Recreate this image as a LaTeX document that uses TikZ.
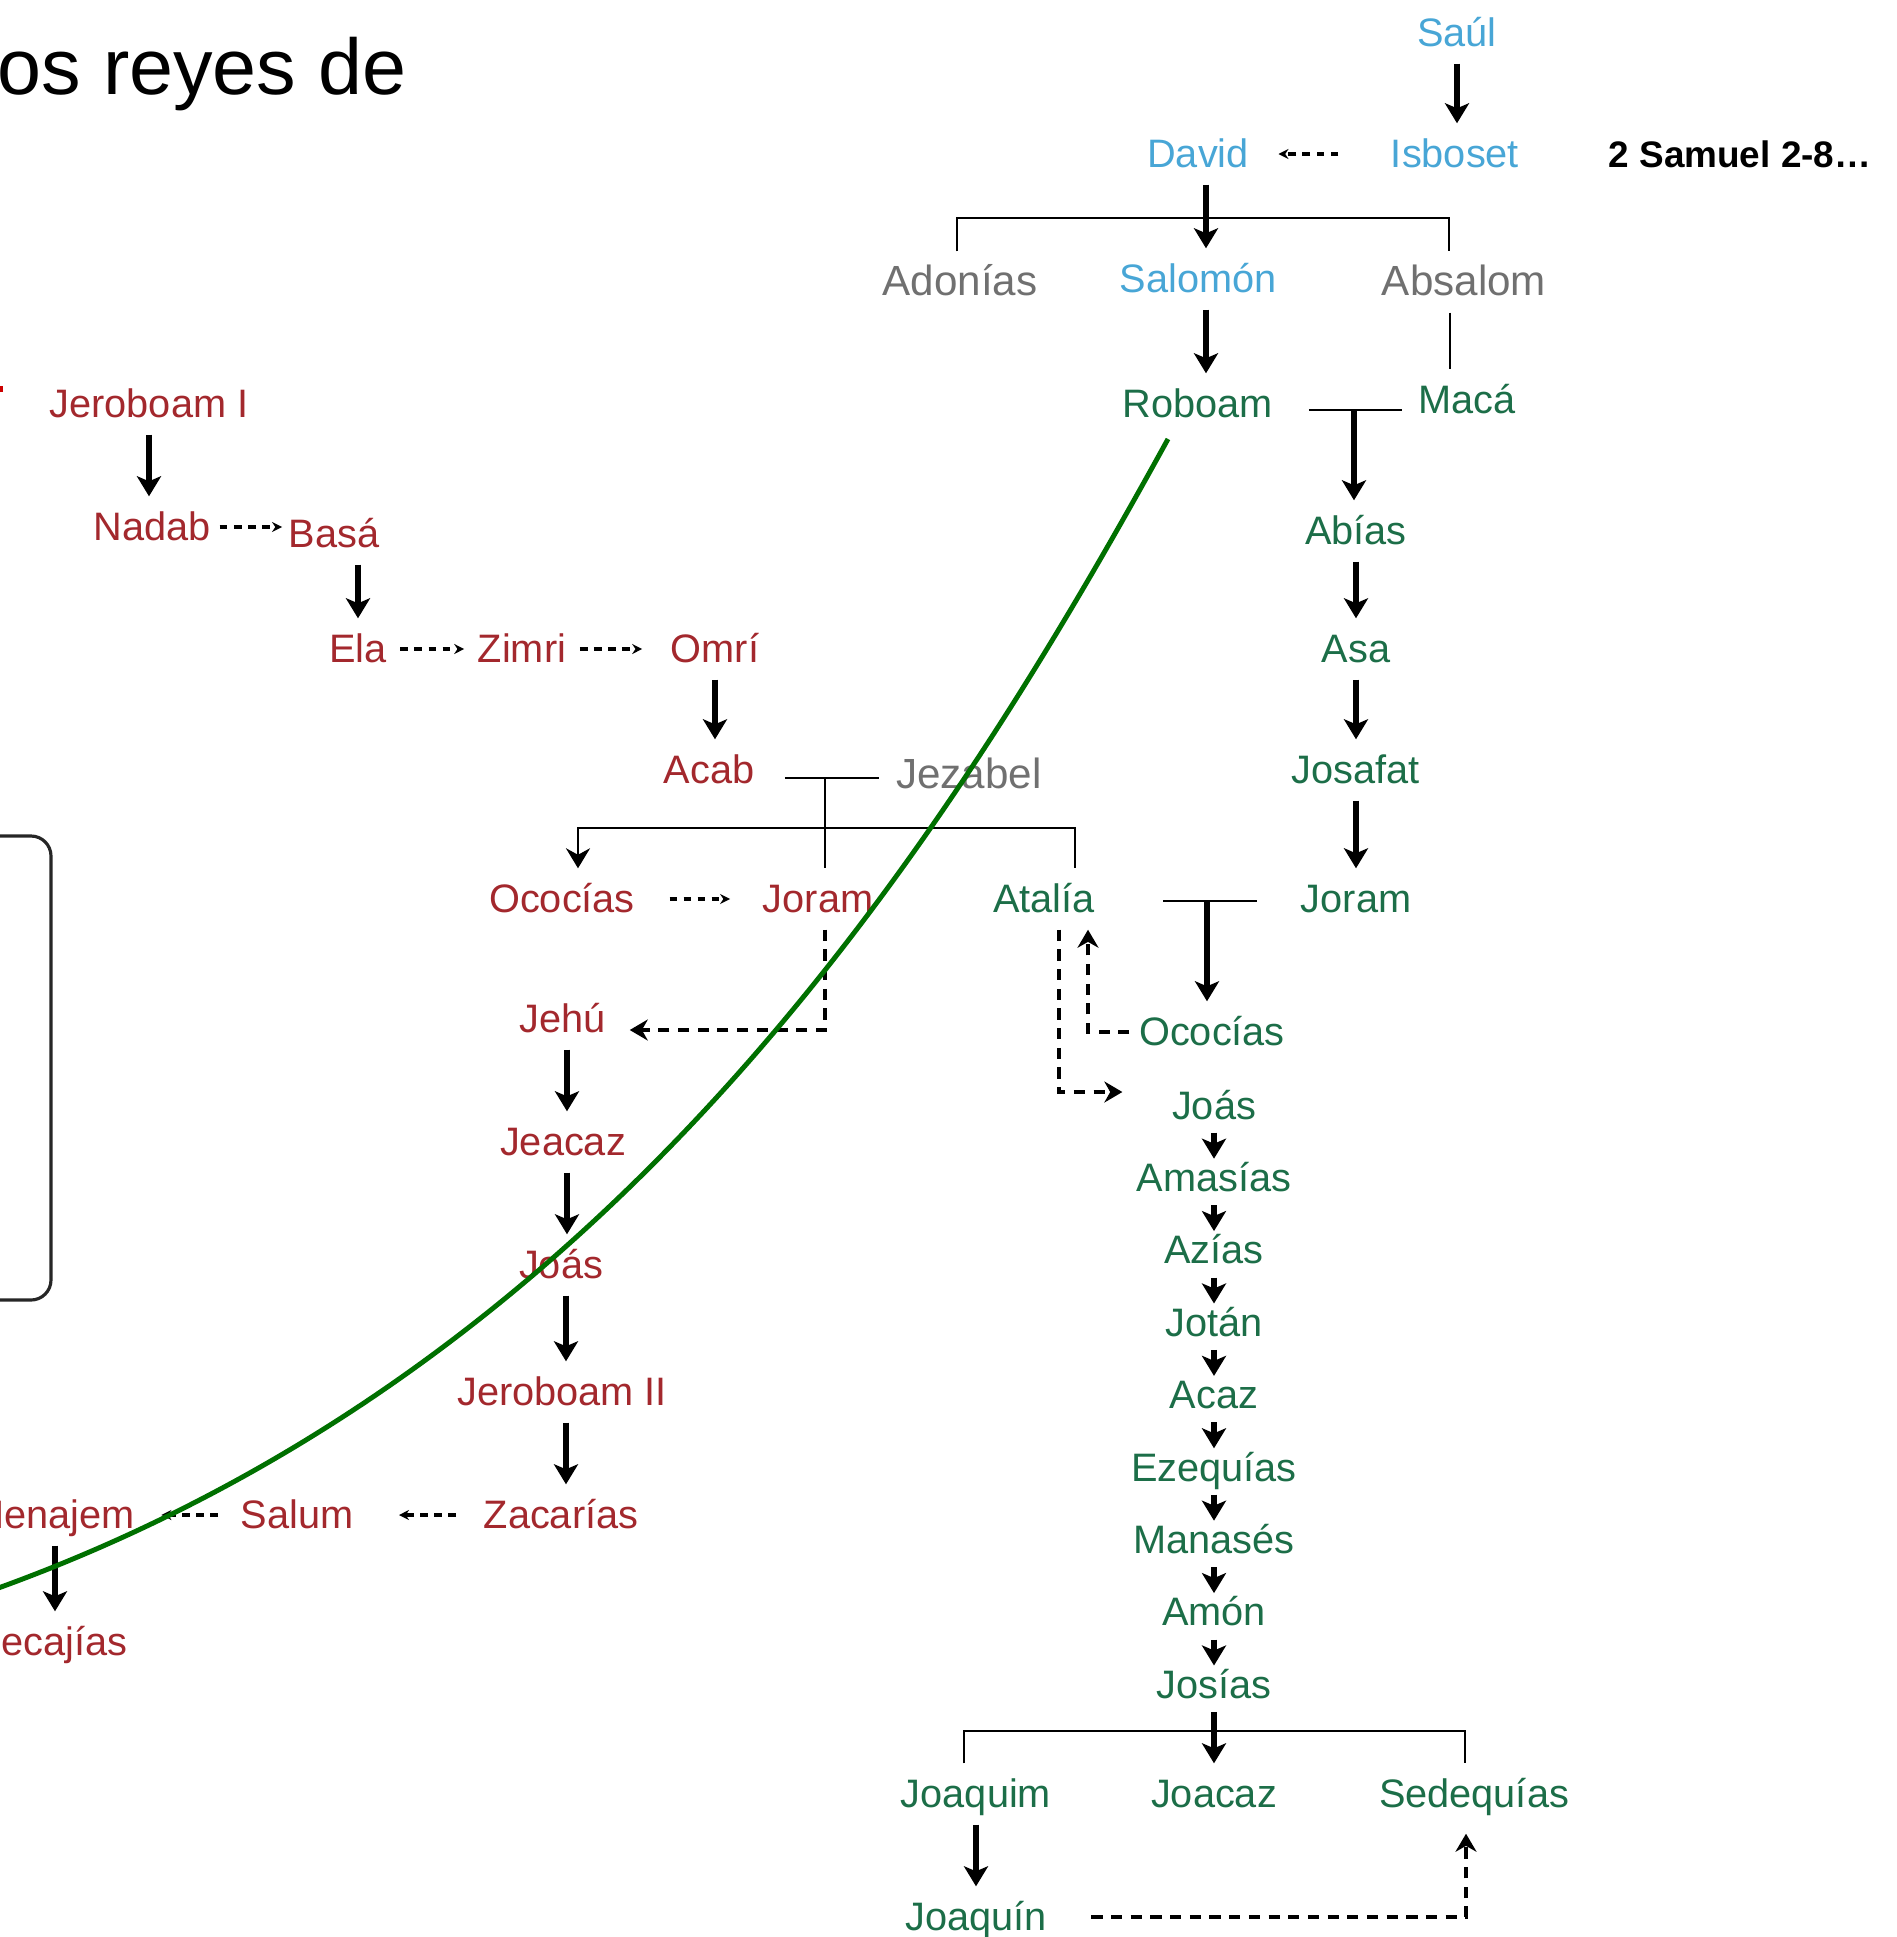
\documentclass[tikz,border=0pt]{standalone}
\usepackage{fontspec}
\setmainfont{Liberation Sans}
\usepackage{tikz}
\usetikzlibrary{arrows.meta}
\usepackage{xcolor}

\definecolor{kingblue}{RGB}{72,166,214}
\definecolor{kinggray}{RGB}{112,112,112}
\definecolor{judahgreen}{RGB}{28,110,72}
\definecolor{israelred}{RGB}{163,40,45}
\definecolor{linegreen}{RGB}{0,112,0}

\begin{document}
\begin{tikzpicture}[
    king/.style={anchor=base, inner sep=0pt, text height=0.43cm, text depth=0.17cm, font=\fontsize{11.3}{13}\selectfont},
    blueking/.style={king, text=kingblue},
    grayone/.style={king, text=kinggray, font=\fontsize{12}{14}\selectfont},
    judah/.style={king, text=judahgreen},
    judahrow/.style={judah, text height=0.32cm, text depth=0.13cm},
    israel/.style={king, text=israelred},
    arr/.style={-{Stealth[length=0.2cm,width=0.24cm,inset=0.05cm]}, line width=0.065cm},
    bar/.style={line width=0.8pt},
    sdash/.style={-{Stealth[length=0.1cm,width=0.1cm]}, line width=1pt, dash pattern=on 2.2pt off 1.8pt},
    ldash/.style={-{Stealth[length=0.18cm,width=0.21cm]}, line width=1pt, dash pattern=on 3.2pt off 2.4pt}
  ]
    \useasboundingbox (0,0) rectangle (18.96,-19.37);

    % title and reference
    \node [anchor=base west, inner sep=0pt, font=\fontsize{22.5}{27}\selectfont] (Title) at (-0.03,-0.95) {os reyes de};
    \node [anchor=base, inner sep=0pt, font=\fontsize{10.5}{12}\selectfont\bfseries] (Samuel) at (17.40,-1.67) {2 Samuel 2-8…};

    \fill [red!80!black] (0,-3.86) rectangle (0.03,-3.92);
    \draw [line width=0.9pt, black!85, rounded corners=0.2cm] (-0.5,-8.36) -- (0.51,-8.36) -- (0.51,-13.00) -- (-0.5,-13.00);

    % united kingdom
    \node [blueking] (Saul) at (14.57,-0.46) {Saúl};
    \node [blueking] (David) at (11.98,-1.67) {David};
    \node [blueking] (Isboset) at (14.55,-1.67) {Isboset};
    \node [blueking] (Salomon) at (11.98,-2.92) {Salomón};
    \node [grayone] (Adonias) at (9.60,-2.95) {Adonías};
    \node [grayone] (Absalom) at (14.64,-2.95) {Absalom};

    % Judah
    \node [judah] (Roboam) at (11.98,-4.17) {Roboam};
    \node [judah] (Maca) at (14.67,-4.13) {Macá};
    \node [judah] (Abias) at (13.56,-5.44) {Abías};
    \node [judah] (Asa) at (13.56,-6.62) {Asa};
    \node [judah] (Josafat) at (13.56,-7.83) {Josafat};
    \node [judah] (JoramG) at (13.56,-9.12) {Joram};
    \node [judah] (Atalia) at (10.44,-9.12) {Atalía};
    \node [judah] (OcoG) at (12.12,-10.45) {Ococías};
    \node [judahrow] (JoasG) at (12.14,-11.19) {Joás};
    \node [judahrow] (Amasias) at (12.14,-11.914) {Amasías};
    \node [judahrow] (Azias) at (12.14,-12.638) {Azías};
    \node [judahrow] (Jotan) at (12.14,-13.362) {Jotán};
    \node [judahrow] (Acaz) at (12.14,-14.086) {Acaz};
    \node [judahrow] (Ezequias) at (12.14,-14.81) {Ezequías};
    \node [judahrow] (Manases) at (12.14,-15.534) {Manasés};
    \node [judahrow] (Amon) at (12.14,-16.258) {Amón};
    \node [judahrow] (Josias) at (12.14,-16.982) {Josías};
    \node [judah] (Joaquim) at (9.76,-18.07) {Joaquim};
    \node [judah] (Joacaz) at (12.14,-18.07) {Joacaz};
    \node [judah] (Sedequias) at (14.74,-18.07) {Sedequías};
    \node [judah] (Joaquin) at (9.76,-19.30) {Joaquín};

    % Israel
    \node [israel] (JeroboamI) at (1.49,-4.17) {Jeroboam I};
    \node [israel] (Nadab) at (1.52,-5.40) {Nadab};
    \node [israel] (Basa) at (3.34,-5.47) {Basá};
    \node [israel] (Ela) at (3.58,-6.62) {Ela};
    \node [israel] (Zimri) at (5.22,-6.62) {Zimri};
    \node [israel] (Omri) at (7.15,-6.62) {Omrí};
    \node [israel] (Acab) at (7.09,-7.83) {Acab};
    \node [grayone] (Jezabel) at (9.69,-7.88) {Jezabel};
    \node [israel] (OcoR) at (5.62,-9.12) {Ococías};
    \node [israel] (JoramR) at (8.18,-9.12) {Joram};
    \node [israel] (Jehu) at (5.63,-10.32) {Jehú};
    \node [israel] (Jeacaz) at (5.63,-11.55) {Jeacaz};
    \node [israel] (JoasR) at (5.61,-12.78) {Joás};
    \node [israel] (JeroboamII) at (5.62,-14.05) {Jeroboam II};
    \node [israel] (Zacarias) at (5.61,-15.28) {Zacarías};
    \node [israel] (Salum) at (2.97,-15.28) {Salum};
    \node [israel] (Menajem) at (0.53,-15.28) {Menajem};
    \node [israel] (Pecajias) at (0.51,-16.55) {Pecajías};

    % marriage and family points
    \coordinate (DavidKids) at (12.06,-2.18);
    \coordinate (RM) at (13.54,-4.10);
    \coordinate (AJ) at (8.25,-7.78);
    \coordinate (AJkids) at (8.25,-8.28);
    \coordinate (AtJ) at (12.07,-9.01);
    \coordinate (JosKids) at (12.16,-17.31);

    % united kingdom lines
    \draw [arr] (Saul.south) -- (Saul.south |- Isboset.north);
    \draw [sdash, shorten <=0.52cm, shorten >=0.29cm] (Isboset.west) -- (David.east);
    \draw [bar] ([xshift=-0.03cm]Adonias.north) |- (DavidKids) -| ([xshift=-0.15cm]Absalom.north);
    \draw [arr] ([xshift=0.08cm]David.south) -- ([xshift=0.08cm]David.south |- Salomon.north);
    \draw [arr] ([xshift=0.08cm]Salomon.south) -- ([xshift=0.08cm]Salomon.south |- Roboam.north);
    \draw [bar] ([xshift=-0.14cm]Absalom.south) -- ([xshift=-0.14cm]Absalom.south |- Maca.north);

    % Judah lines
    \draw [bar, shorten <=0.35cm, shorten >=0.155cm] (Roboam.east |- RM) -- (Maca.west |- RM);
    \draw [arr] (RM) -- (RM |- Abias.north);
    \draw [arr] (Abias.south) -- (Abias.south |- Asa.north);
    \draw [arr] (Asa.south) -- (Asa.south |- Josafat.north);
    \draw [arr] (Josafat.south) -- (Josafat.south |- JoramG.north);
    \draw [bar, shorten <=0.68cm, shorten >=0.43cm] (Atalia.east |- AtJ) -- (JoramG.west |- AtJ);
    \draw [arr] (AtJ) -- (AtJ |- OcoG.north);
    \draw [ldash, shorten <=0.09cm] (OcoG.west) -| ([xshift=0.44cm]Atalia.south);
    \draw [ldash, shorten >=0.49cm] ([xshift=0.15cm]Atalia.south) |- ([yshift=0.175cm]JoasG.west);
    \draw [arr] (JoasG.south) -- (JoasG.south |- Amasias.north);
    \draw [arr] (Amasias.south) -- (Amasias.south |- Azias.north);
    \draw [arr] (Azias.south) -- (Azias.south |- Jotan.north);
    \draw [arr] (Jotan.south) -- (Jotan.south |- Acaz.north);
    \draw [arr] (Acaz.south) -- (Acaz.south |- Ezequias.north);
    \draw [arr] (Ezequias.south) -- (Ezequias.south |- Manases.north);
    \draw [arr] (Manases.south) -- (Manases.south |- Amon.north);
    \draw [arr] (Amon.south) -- (Amon.south |- Josias.north);
    \draw [bar] ([xshift=-0.12cm]Joaquim.north) |- (JosKids) -| ([xshift=-0.09cm]Sedequias.north);
    \draw [arr] (Josias.south) -- (Josias.south |- Joacaz.north);
    \draw [arr] (Joaquim.south) -- (Joaquim.south |- Joaquin.north);
    \draw [ldash, shorten <=0.44cm, shorten >=0.09cm] (Joaquin.east) -| ([xshift=-0.08cm]Sedequias.south);

    % Israel lines
    \draw [arr] (JeroboamI.south) -- (JeroboamI.south |- Nadab.north);
    \draw [sdash, shorten <=0.085cm, shorten >=0.06cm] (Nadab.east) -- (Nadab.east -| Basa.west);
    \draw [arr] ([xshift=0.24cm]Basa.south) -- (Ela.north);
    \draw [sdash, shorten <=0.13cm, shorten >=0.13cm] (Ela.east) -- (Zimri.west);
    \draw [sdash, shorten <=0.13cm, shorten >=0.28cm] (Zimri.east) -- (Omri.west);
    \draw [arr] (Omri.south) -- (Omri.south |- Acab.north);
    \draw [bar, shorten <=0.30cm, shorten >=0.17cm] (Acab.east |- AJ) -- (Jezabel.west |- AJ);
    \draw [bar] (AJ) -- (AJ |- JoramR.north);
    \draw [bar, -{Stealth[length=0.2cm,width=0.24cm]}] (AJkids) -| ([xshift=0.16cm]OcoR.north);
    \draw [bar] (AJkids) -| ([xshift=0.31cm]Atalia.north);
    \draw [sdash, shorten <=0.34cm, shorten >=0.32cm] (OcoR.east) -- (JoramR.west);
    \draw [ldash, shorten >=0.23cm] ([xshift=0.07cm]JoramR.south) |- ([yshift=-0.11cm]Jehu.east);
    \draw [arr] ([xshift=0.04cm]Jehu.south) -- ([xshift=0.04cm]Jehu.south |- Jeacaz.north);
    \draw [arr] ([xshift=0.04cm]Jeacaz.south) -- ([xshift=0.04cm]Jeacaz.south |- JoasR.north);
    \draw [arr] ([xshift=0.05cm]JoasR.south) -- ([xshift=0.05cm]JoasR.south |- JeroboamII.north);
    \draw [arr] ([xshift=0.04cm]JeroboamII.south) -- ([xshift=0.04cm]JeroboamII.south |- Zacarias.north);
    \draw [sdash, shorten <=0.27cm, shorten >=0.45cm] (Zacarias.west) -- (Salum.east);
    \draw [sdash, shorten <=0.22cm, shorten >=0.26cm] (Salum.west) -- (Menajem.east);
    \draw [arr] ([xshift=0.02cm]Menajem.south) -- ([xshift=0.02cm]Menajem.south |- Pecajias.north);

    % division line
    \draw [linegreen, line width=1.4pt] (11.68,-4.39) .. controls (9.37,-8.59) and (6.06,-13.71) .. (-0.10,-15.91);
\end{tikzpicture}
\end{document}
